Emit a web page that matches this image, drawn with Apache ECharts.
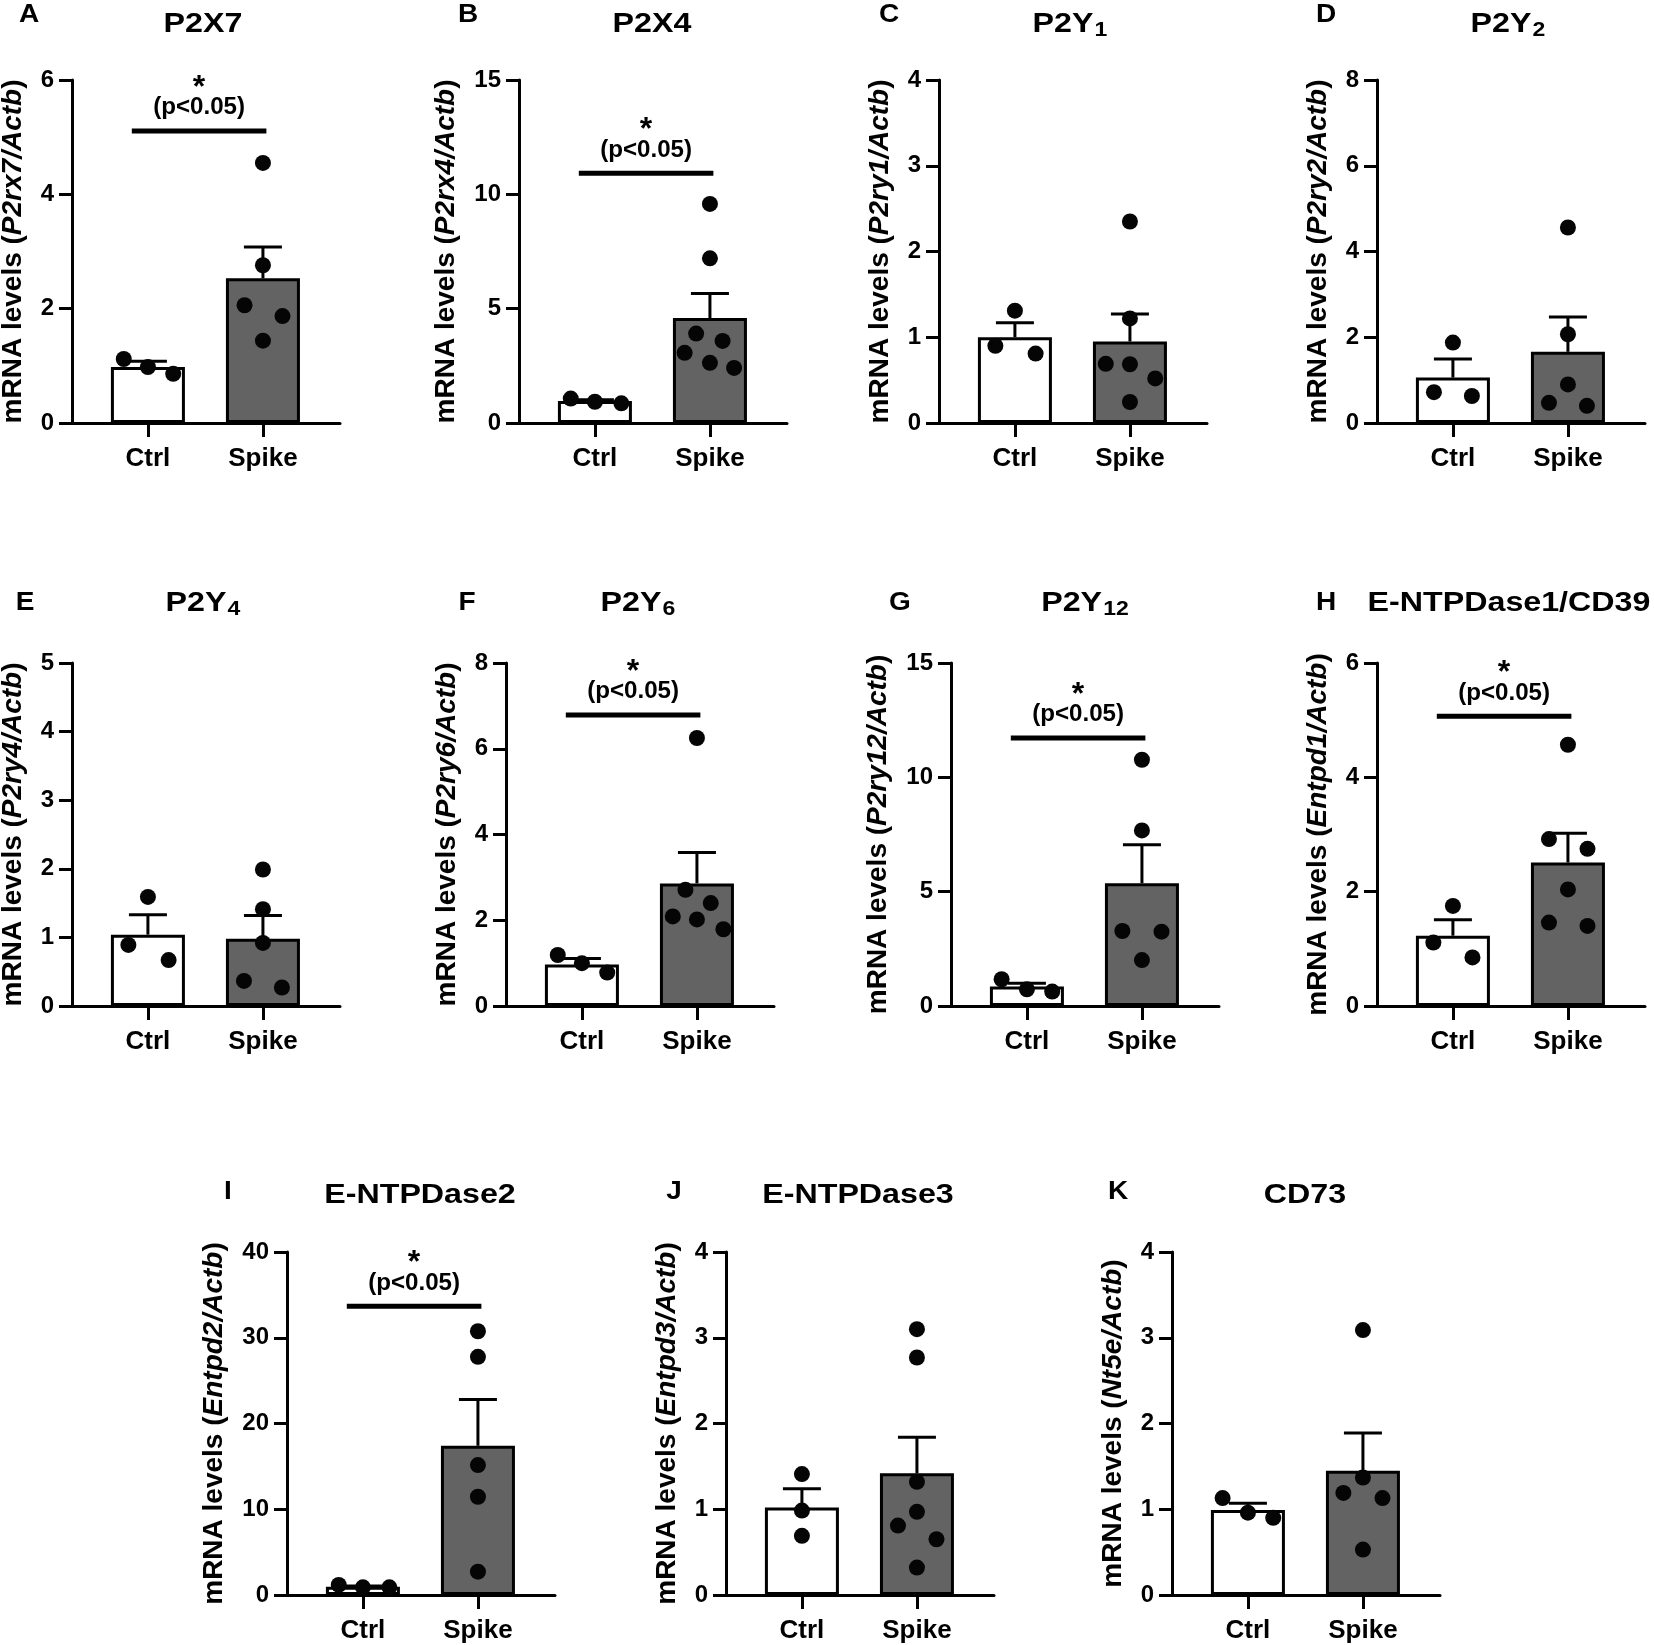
<!DOCTYPE html>
<html>
<head>
<meta charset="utf-8">
<script src="https://cdn.jsdelivr.net/npm/echarts@6/dist/echarts.min.js"></script>
<style>
html, body { margin: 0; padding: 0; background: #fff; }
#chart { width: 1654px; height: 1645px; }
</style>
</head>
<body>
<div id="chart"></div>
<script>
// panel data
var panelLetters = ['A', 'B', 'C', 'D', 'E', 'F', 'G', 'H', 'I', 'J', 'K'];
var titleMain = ['P2X7', 'P2X4', 'P2Y', 'P2Y', 'P2Y', 'P2Y', 'P2Y', 'E-NTPDase1/CD39', 'E-NTPDase2', 'E-NTPDase3', 'CD73'];
var titleSub = ['', '', '1', '2', '4', '6', '12', '', '', '', ''];
var genes = ['P2rx7', 'P2rx4', 'P2ry1', 'P2ry2', 'P2ry4', 'P2ry6', 'P2ry12', 'Entpd1', 'Entpd2', 'Entpd3', 'Nt5e'];
var groups = ['Ctrl', 'Spike'];
var yMax = [6, 15, 4, 8, 5, 8, 15, 6, 40, 4, 4];
var yStep = [2, 5, 1, 2, 1, 2, 5, 2, 10, 1, 1];

var ctrlMean = [0.98, 0.96, 1.0, 1.06, 1.04, 0.97, 0.85, 1.23, 0.95, 1.02, 0.99];
var ctrlSem = [0.10, 0.06, 0.17, 0.43, 0.29, 0.14, 0.14, 0.28, 0.10, 0.22, 0.08];
var spikeMean = [2.53, 4.59, 0.95, 1.66, 0.98, 2.86, 5.37, 2.51, 17.4, 1.42, 1.45];
var spikeSem = [0.55, 1.07, 0.32, 0.81, 0.34, 0.72, 1.68, 0.51, 5.4, 0.42, 0.44];

var ctrlPoints = [
  [1.12, 0.98, 0.86],
  [1.07, 0.93, 0.86],
  [1.31, 0.90, 0.81],
  [1.875, 0.72, 0.63],
  [1.59, 0.89, 0.67],
  [1.19, 1.0, 0.78],
  [1.17, 0.73, 0.63],
  [1.75, 1.11, 0.85],
  [1.17, 0.89, 0.89],
  [1.41, 0.985, 0.69],
  [1.13, 0.96, 0.90]
];
var ctrlJitter = [
  [-0.21, 0, 0.22],
  [-0.21, 0, 0.23],
  [0, -0.17, 0.18],
  [0, -0.165, 0.165],
  [0, -0.17, 0.18],
  [-0.21, 0, 0.22],
  [-0.22, 0, 0.22],
  [0, -0.17, 0.17],
  [-0.21, 0, 0.23],
  [0, 0, 0],
  [-0.22, 0, 0.22]
];
var spikePoints = [
  [4.55, 2.76, 2.06, 1.87, 1.44],
  [9.58, 7.2, 3.91, 3.59, 3.07, 2.63, 2.41],
  [2.35, 1.22, 0.69, 0.685, 0.52, 0.245],
  [4.56, 2.07, 0.90, 0.47, 0.40],
  [1.99, 1.41, 0.92, 0.365, 0.27],
  [6.25, 2.71, 2.40, 2.09, 2.02, 1.79],
  [10.77, 7.68, 3.28, 3.25, 2.01],
  [4.57, 2.92, 2.75, 2.04, 1.46, 1.40],
  [30.76, 27.77, 15.15, 11.46, 2.72],
  [3.10, 2.77, 1.32, 0.97, 0.81, 0.65, 0.32],
  [3.09, 1.37, 1.19, 1.13, 0.53]
];
var spikeJitter = [
  [0, 0, -0.16, 0.17, 0],
  [0, 0, -0.12, 0.11, -0.22, 0, 0.21],
  [0, 0, -0.21, 0, 0.22, 0],
  [0, 0, 0, -0.165, 0.165],
  [0, 0, 0, -0.165, 0.165],
  [0, -0.10, 0.12, -0.21, 0, 0.23],
  [0, 0, -0.17, 0.17, 0],
  [0, -0.165, 0.17, 0, -0.165, 0.17],
  [0, 0, 0, 0, 0],
  [0, 0, 0, 0, -0.165, 0.17, 0],
  [0, 0, -0.17, 0.17, 0]
];
// height of the significance bar (null = none)
var sigLevel = [5.11, 10.92, null, null, null, 6.79, 11.72, 5.07, 33.67, null, null];

// layout (pixels)
var gridLeft = [72, 519, 939, 1377, 72, 506, 951, 1377, 287, 726, 1172];
var gridTop = [80, 80, 80, 80, 663, 663, 663, 663, 1252, 1252, 1252];
var letterX = [29, 468, 889, 1326, 25, 467, 900, 1326, 228, 674, 1118];
var letterY = [15, 15, 15, 15, 603, 603, 603, 603, 1192, 1192, 1192];
var titleX = [203, 652, 1070, 1508, 203, 638, 1085, 1509, 420, 858, 1305];
var titleY = [24, 24, 24, 24, 603, 603, 603, 603, 1195, 1195, 1195];

var FONT = "'Liberation Sans', Arial, Helvetica, sans-serif";
var SPIKE_COLOR = '#626362';

var chart = echarts.init(document.getElementById('chart'));

var grids = [], xAxes = [], yAxes = [], series = [], graphics = [];

for (var i = 0; i < genes.length; i++) {
  grids.push({
    left: gridLeft[i], top: gridTop[i], width: 268, height: 343,
    containLabel: false, outerBoundsMode: 'none'
  });

  xAxes.push({
    gridIndex: i, type: 'value', min: 0.34, max: 2.67,
    splitLine: { show: false },
    axisLine: { lineStyle: { color: '#000', width: 3 } },
    axisTick: { customValues: [1, 2], length: 14, lineStyle: { color: '#000', width: 3 } },
    axisLabel: {
      customValues: [1, 2], margin: 23,
      formatter: function (v) { return groups[Math.round(v) - 1]; },
      color: '#000', fontFamily: FONT, fontWeight: 'bold', fontSize: 26
    }
  });

  yAxes.push({
    gridIndex: i, type: 'value', min: 0, max: yMax[i], interval: yStep[i],
    splitLine: { show: false },
    axisLine: { show: true, lineStyle: { color: '#000', width: 3 } },
    axisTick: { show: true, length: 13, lineStyle: { color: '#000', width: 3 } },
    axisLabel: { margin: 18, color: '#000', fontFamily: FONT, fontWeight: 'bold', fontSize: 24 },
    name: '{n|mRNA levels (}{i|' + genes[i] + '/Actb}{n|)}',
    nameLocation: 'middle', nameRotate: 90,
    nameGap: 31 + 14 * String(yMax[i]).length,
    nameTextStyle: {
      rich: {
        n: { fontFamily: FONT, fontWeight: 'bold', fontSize: 28, color: '#000' },
        i: { fontFamily: FONT, fontWeight: 'bold', fontStyle: 'italic', fontSize: 28, color: '#000' }
      }
    }
  });

  // bars (means)
  series.push({
    type: 'bar', xAxisIndex: i, yAxisIndex: i, barWidth: 74, z: 2,
    data: [
      { value: [1, ctrlMean[i]], itemStyle: { color: '#fff' } },
      { value: [2, spikeMean[i]], itemStyle: { color: SPIKE_COLOR } }
    ],
    itemStyle: { borderColor: '#000', borderWidth: 3 }
  });

  // SEM (upper half)
  series.push({
    type: 'custom', xAxisIndex: i, yAxisIndex: i, z: 3,
    data: [[1, ctrlMean[i], ctrlSem[i]], [2, spikeMean[i], spikeSem[i]]],
    renderItem: function (params, api) {
      var x = api.value(0), m = api.value(1), s = api.value(2);
      var p0 = api.coord([x, m]);
      var p1 = api.coord([x, m + s]);
      var st = { stroke: '#000', lineWidth: 3 };
      return {
        type: 'group',
        children: [
          { type: 'line', shape: { x1: p0[0], y1: p0[1], x2: p1[0], y2: p1[1] }, style: st },
          { type: 'line', shape: { x1: p1[0] - 19, y1: p1[1], x2: p1[0] + 19, y2: p1[1] }, style: st }
        ]
      };
    }
  });

  // individual animals
  var pts = [];
  ctrlPoints[i].forEach(function (v, k) { pts.push([1 + ctrlJitter[i][k], v]); });
  spikePoints[i].forEach(function (v, k) { pts.push([2 + spikeJitter[i][k], v]); });
  series.push({
    type: 'scatter', xAxisIndex: i, yAxisIndex: i, z: 4,
    symbol: 'circle', symbolSize: 16,
    itemStyle: { color: '#050505', opacity: 1 },
    data: pts
  });

  // significance bar
  if (sigLevel[i] !== null) {
    series.push({
      type: 'custom', xAxisIndex: i, yAxisIndex: i, z: 4,
      data: [[sigLevel[i]]],
      renderItem: function (params, api) {
        var lv = api.value(0);
        var pl = api.coord([0.86, lv]);
        var pr = api.coord([2.03, lv]);
        var cx = (pl[0] + pr[0]) / 2;
        return {
          type: 'group',
          children: [
            { type: 'line', shape: { x1: pl[0], y1: pl[1], x2: pr[0], y2: pr[1] }, style: { stroke: '#000', lineWidth: 5 } },
            { type: 'text', x: cx, y: pl[1] - 59, style: { text: '*', align: 'center', verticalAlign: 'top', fontFamily: FONT, fontWeight: 'bold', fontSize: 32, fill: '#000' } },
            { type: 'text', x: cx, y: pl[1] - 23, scaleX: 1.05, style: { text: '(p<0.05)', align: 'center', verticalAlign: 'middle', fontFamily: FONT, fontWeight: 'bold', fontSize: 23, fill: '#000' } }
          ]
        };
      }
    });
  }

  // panel letter and title
  graphics.push({
    type: 'text', x: letterX[i], y: letterY[i], scaleX: 1.12,
    style: { text: panelLetters[i], align: 'center', verticalAlign: 'middle', fontFamily: FONT, fontWeight: 'bold', fontSize: 25, fill: '#000' }
  });
  graphics.push({
    type: 'text', x: titleX[i], y: titleY[i], scaleX: 1.15,
    style: {
      text: titleSub[i] ? '{t|' + titleMain[i] + '}{s|' + titleSub[i] + '}' : '{t|' + titleMain[i] + '}',
      align: 'center', verticalAlign: 'middle',
      rich: {
        t: { fontFamily: FONT, fontWeight: 'bold', fontSize: 28, fill: '#000' },
        s: { fontFamily: FONT, fontWeight: 'bold', fontSize: 20, fill: '#000', padding: [12, 0, 0, 1] }
      }
    }
  });
}

chart.setOption({
  animation: false,
  backgroundColor: '#fff',
  grid: grids,
  xAxis: xAxes,
  yAxis: yAxes,
  series: series,
  graphic: graphics
});
</script>
</body>
</html>
